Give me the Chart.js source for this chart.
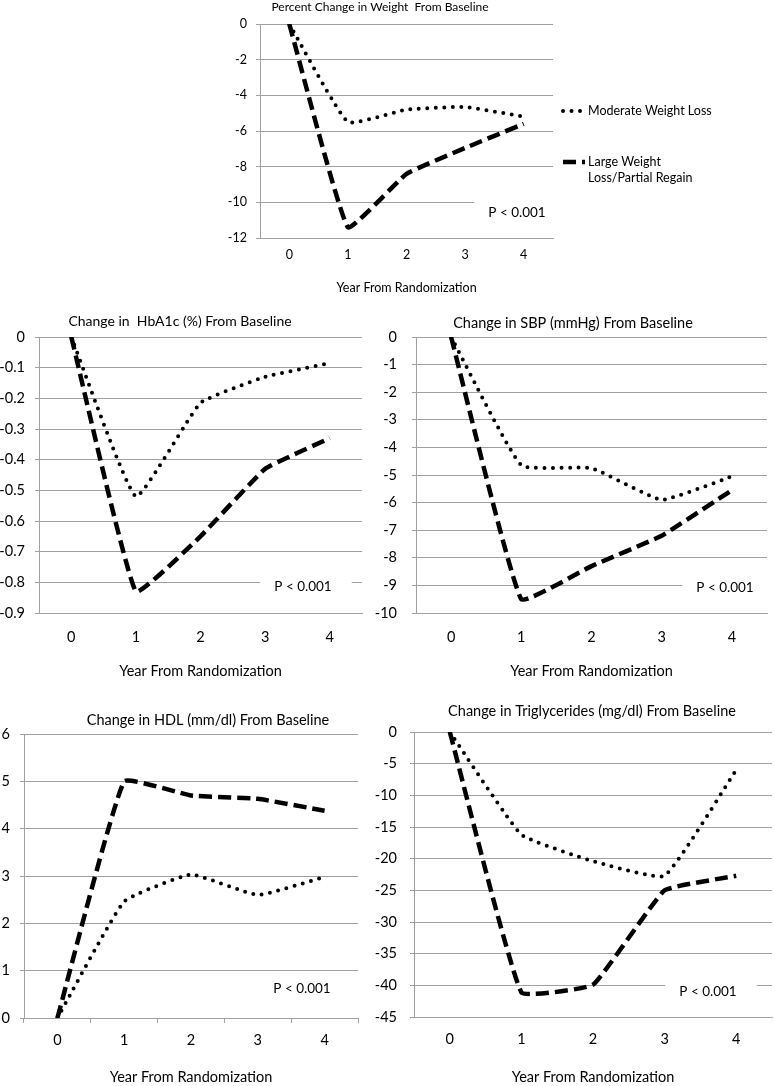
<!DOCTYPE html>
<html>
<head>
<meta charset="utf-8">
<script src="https://cdn.jsdelivr.net/npm/chart.js@4.4.0/dist/chart.umd.min.js"></script>
<style>
  html, body { margin: 0; padding: 0; background: #fff; overflow: hidden; width: 774px; height: 1086px; }
  canvas { position: absolute; }
</style>
</head>
<body>
<script>
// data
const years = ['0', '1', '2', '3', '4'];
const seriesNames = ['Moderate Weight Loss', 'Large Weight Loss/Partial Regain'];
const pValueText = 'P < 0.001';
const xAxisTitle = 'Year From Randomization';

const weightModerate = [0, -5.5, -4.8, -4.65, -5.2];
const weightLarge    = [0, -11.4, -8.4, -6.95, -5.6];

const hba1cModerate = [0, -0.52, -0.215, -0.13, -0.085];
const hba1cLarge    = [0, -0.83, -0.65, -0.43, -0.33];

const sbpModerate = [0, -4.65, -4.75, -5.9, -5.05];
const sbpLarge    = [0, -9.5, -8.3, -7.2, -5.55];

const hdlModerate = [0, 2.46, 3.03, 2.6, 2.98];
const hdlLarge    = [0, 5.0, 4.7, 4.63, 4.38];

const trigModerate = [0, -16.2, -20.4, -22.7, -6];
const trigLarge    = [0, -41.1, -39.9, -25, -22.7];

const GRID = '#a0a0a0';
const FONT = 'Lato, "Open Sans", sans-serif';
Chart.defaults.font.family = FONT;
Chart.defaults.color = '#000';
Chart.defaults.animation = false;

// titles, p-value box and the one legend are drawn here
const panelText = {
  id: 'panelText',
  beforeDatasetsDraw(chart, args, o) {
    const ctx = chart.ctx;
    ctx.save();
    ctx.font = `${o.pSize}px ${FONT}`;
    const w = ctx.measureText(pValueText).width;
    const x = o.px - o.left, y = o.py - o.top;
    // white box hides the gridline behind the label
    ctx.fillStyle = '#fff';
    ctx.fillRect(x - w / 2 - 14, y - 11, w + 34, 22);
    ctx.fillStyle = '#000';
    ctx.textAlign = 'center';
    ctx.textBaseline = 'middle';
    ctx.fillText(pValueText, x, y);
    ctx.restore();
  },
  afterDraw(chart, args, o) {
    const ctx = chart.ctx;
    ctx.save();
    ctx.fillStyle = '#000';
    ctx.textAlign = 'center';
    ctx.textBaseline = 'middle';
    ctx.font = `${o.titleSize}px ${FONT}`;
    ctx.fillText(o.title, o.tx - o.left, o.ty - o.top);

    if (o.legend) {
      ctx.font = `12.5px ${FONT}`;
      ctx.textAlign = 'left';
      chart.data.datasets.forEach((ds, i) => {
        const ly = o.legend.y[i] - o.top;
        const lx = o.legend.x - o.left;
        ctx.strokeStyle = ds.borderColor;
        ctx.lineWidth = ds.borderWidth;
        ctx.lineCap = ds.borderCapStyle || 'butt';
        ctx.setLineDash(ds.borderDash);
        ctx.beginPath();
        ctx.moveTo(lx, ly);
        ctx.lineTo(lx + o.legend.sample, ly);
        ctx.stroke();
        ctx.setLineDash([]);
        // simple word wrap
        const words = ds.label.split(' ');
        const lines = [];
        let cur = '';
        words.forEach(wd => {
          const test = cur ? cur + ' ' + wd : wd;
          if (cur && ctx.measureText(test).width > o.legend.maxWidth) {
            lines.push(cur);
            cur = wd;
          } else cur = test;
        });
        lines.push(cur);
        lines.forEach((t, k) => ctx.fillText(t, lx + o.legend.sample + 3, ly + k * 15.5));
      });
    }
    ctx.restore();
  }
};

function makePanel(p) {
  const canvas = document.createElement('canvas');
  canvas.width = p.width;
  canvas.height = p.height;
  canvas.style.left = p.left + 'px';
  canvas.style.top = p.top + 'px';
  document.body.appendChild(canvas);

  const yWidth = p.plot.L - p.left;
  const xHeight = p.top + p.height - p.plot.B;

  return new Chart(canvas.getContext('2d'), {
    type: 'line',
    data: {
      labels: years,
      datasets: [{
        label: seriesNames[0],
        data: p.moderate,
        borderColor: '#000',
        borderWidth: 4,
        borderDash: [0, 8.5],
        borderCapStyle: 'round',
        pointRadius: 0,
        tension: 0.12,
        fill: false
      }, {
        label: seriesNames[1],
        data: p.large,
        borderColor: '#000',
        borderWidth: 4.5,
        borderDash: [13, 6],
        pointRadius: 0,
        tension: 0.1,
        fill: false
      }]
    },
    options: {
      responsive: false,
      devicePixelRatio: 1,
      layout: {
        padding: { left: 0, top: p.plot.T - p.top, right: p.left + p.width - p.plot.R, bottom: 0 }
      },
      plugins: {
        legend: { display: false },
        tooltip: { enabled: false },
        panelText: {
          left: p.left, top: p.top,
          title: p.title, tx: p.tx, ty: p.ty, titleSize: p.titleSize,
          px: p.px, py: p.py, pSize: 13.5,
          legend: p.legend
        }
      },
      scales: {
        x: {
          offset: true,
          grid: {
            display: true, drawOnChartArea: false, offset: true,
            drawTicks: !!p.xTicks, tickLength: 5, color: GRID
          },
          border: { display: true, color: GRID },
          ticks: { font: { size: p.tickSize }, padding: p.xPad, maxRotation: 0 },
          title: {
            display: true, text: xAxisTitle,
            font: { size: p.xTitleSize }, padding: { top: 0, bottom: p.xTitleBottom }
          },
          afterFit: s => { s.height = xHeight; }
        },
        y: {
          min: p.min, max: p.max,
          grid: { color: GRID, lineWidth: 1, drawTicks: true, tickLength: 4 },
          border: { display: true, color: GRID },
          ticks: { stepSize: p.step, autoSkip: false, font: { size: p.tickSize }, padding: p.yPad },
          afterFit: s => { s.width = yWidth; }
        }
      }
    },
    plugins: [panelText]
  });
}

// weight panel with legend
makePanel({
  left: 207, top: 0, width: 567, height: 297,
  plot: { L: 260, T: 24, R: 553, B: 238 },
  moderate: weightModerate, large: weightLarge,
  min: -12, max: 0, step: 2,
  title: 'Percent Change in Weight  From Baseline', tx: 380, ty: 7, titleSize: 12,
  px: 517, py: 213,
  tickSize: 12.5, xPad: 9, yPad: 9, xTitleSize: 12.5, xTitleBottom: 2,
  legend: { x: 563, y: [111, 162], sample: 22, maxWidth: 130 }
});

makePanel({
  left: 0, top: 300, width: 372, height: 382,
  plot: { L: 39, T: 337, R: 362, B: 613 },
  moderate: hba1cModerate, large: hba1cLarge,
  min: -0.9, max: 0, step: 0.1,
  title: 'Change in  HbA1c (%) From Baseline', tx: 180, ty: 321, titleSize: 14,
  px: 303, py: 587,
  tickSize: 14.5, xPad: 16, yPad: 10, xTitleSize: 14.5, xTitleBottom: 2
});

makePanel({
  left: 375, top: 300, width: 399, height: 382,
  plot: { L: 416, T: 337, R: 767, B: 613 },
  moderate: sbpModerate, large: sbpLarge,
  min: -10, max: 0, step: 1,
  title: 'Change in SBP (mmHg) From Baseline', tx: 573, ty: 323, titleSize: 14.5,
  px: 725, py: 588,
  tickSize: 14.5, xPad: 16, yPad: 15, xTitleSize: 14.5, xTitleBottom: 2
});

makePanel({
  left: 0, top: 690, width: 368, height: 396,
  plot: { L: 24, T: 734, R: 358, B: 1018 },
  moderate: hdlModerate, large: hdlLarge,
  min: 0, max: 6, step: 1,
  title: 'Change in HDL (mm/dl) From Baseline', tx: 208, ty: 720, titleSize: 14.5,
  px: 302, py: 989,
  tickSize: 14.5, xPad: 8.6, yPad: 10, xTitleSize: 14.5, xTitleBottom: 0, xTicks: true
});

makePanel({
  left: 375, top: 690, width: 399, height: 396,
  plot: { L: 414, T: 732, R: 772, B: 1017 },
  moderate: trigModerate, large: trigLarge,
  min: -45, max: 0, step: 5,
  title: 'Change in Triglycerides (mg/dl) From Baseline', tx: 592, ty: 711, titleSize: 14.5,
  px: 708, py: 992,
  tickSize: 14.5, xPad: 13.6, yPad: 13, xTitleSize: 14.5, xTitleBottom: 0
});
</script>
</body>
</html>
